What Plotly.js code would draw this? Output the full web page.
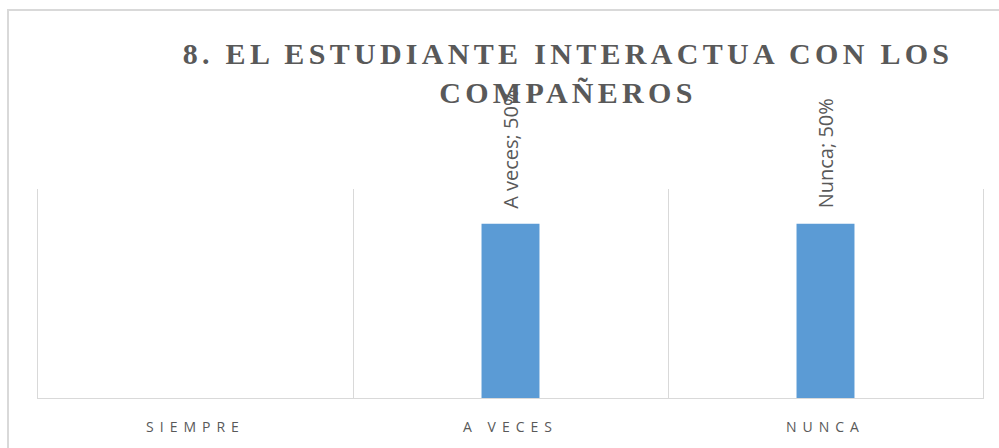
<!DOCTYPE html>
<html>
<head>
<meta charset="utf-8">
<script src="https://cdn.plot.ly/plotly-3.0.1.min.js"></script>
<style>
  body { margin:0; padding:0; background:#fff; }
  #chart { position:absolute; left:0; top:0; width:999px; height:448px; }
  #frame { position:absolute; left:7px; top:9px; width:1100px; height:600px;
           border-top:2px solid #d9d9d9; border-left:2px solid #d9d9d9;
           pointer-events:none; z-index:10; }
  .gtitle { letter-spacing:4.3px; }
  .xtick text { letter-spacing:6px; }
</style>
</head>
<body>
<div id="chart"></div>
<div id="frame"></div>
<script>
const categories = ['Siempre', 'A veces', 'Nunca'];
const tickLabels = ['SIEMPRE', 'A VECES', 'NUNCA'];
const values = [0, 0.5, 0.5];
const chartTitle = '8. EL ESTUDIANTE INTERACTUA CON LOS<br>COMPAÑEROS';

const labels = values.map((v, i) => v > 0 ? categories[i] + '; ' + Math.round(v * 100) + '%' : '');

const trace = {
  type: 'bar',
  x: categories,
  y: values,
  marker: { color: '#5b9bd5' },
  hoverinfo: 'none'
};

const annotations = categories.map((c, i) => ({
  x: c,
  y: values[i],
  xref: 'x',
  yref: 'y',
  text: labels[i],
  showarrow: false,
  textangle: -90,
  xanchor: 'center',
  yanchor: 'bottom',
  yshift: 13,
  font: { family: 'Open Sans, sans-serif', size: 20, color: '#595959' }
})).filter(a => a.text !== '');

const layout = {
  width: 999,
  height: 448,
  margin: { l: 38, r: 16, t: 189, b: 50 },
  paper_bgcolor: '#ffffff',
  plot_bgcolor: '#ffffff',
  showlegend: false,
  bargap: 0.816,
  annotations: annotations,
  title: {
    text: chartTitle,
    font: { family: 'Liberation Serif, Times New Roman, serif', size: 30, color: '#595959', weight: 'bold' },
    x: 568 / 999,
    xanchor: 'center',
    xref: 'container',
    y: 1 - 64 / 448,
    yanchor: 'top',
    yref: 'container'
  },
  xaxis: {
    type: 'category',
    tickvals: categories,
    ticktext: tickLabels,
    tickson: 'boundaries',
    ticks: '',
    showgrid: true,
    gridcolor: '#d9d9d9',
    gridwidth: 1,
    showline: true,
    linecolor: '#d9d9d9',
    linewidth: 1,
    tickfont: { family: 'Open Sans, sans-serif', size: 14, color: '#595959' },
    ticklabelstandoff: 16
  },
  yaxis: {
    range: [0, 0.6],
    showgrid: false,
    zeroline: false,
    showticklabels: false,
    showline: true,
    mirror: true,
    linecolor: '#d9d9d9',
    linewidth: 1,
    ticks: ''
  }
};

Plotly.newPlot('chart', [trace], layout, { displayModeBar: false, staticPlot: true });
</script>
</body>
</html>
